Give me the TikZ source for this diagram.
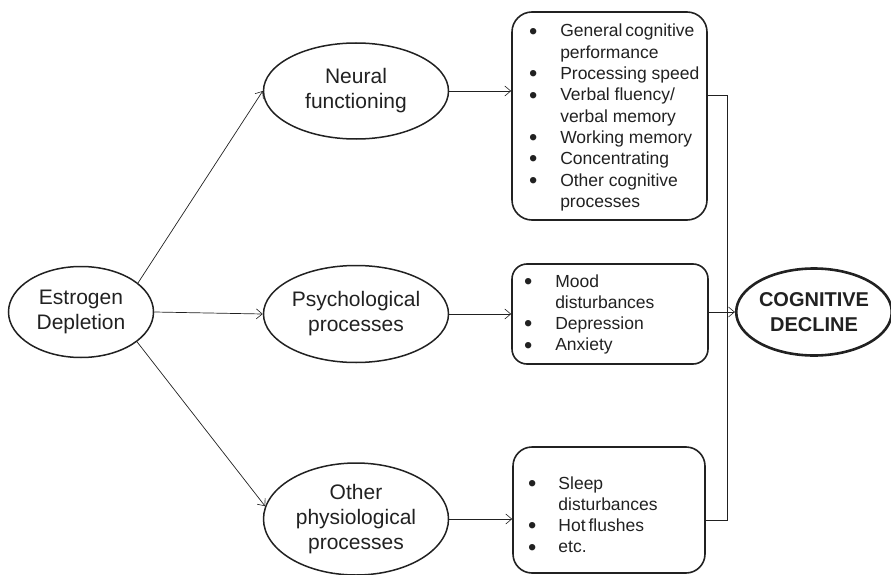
\documentclass[tikz,border=0pt]{standalone}
\usepackage{fontspec}
\setmainfont{Liberation Sans}
\usetikzlibrary{arrows.meta,shapes.geometric}
\definecolor{ink}{gray}{0.13}
% a slightly larger list bullet, kept on the text's centre line
\newcommand{\itemdot}{\raisebox{-2.2pt}{\fontsize{23.6}{21.3}\selectfont\textbullet}}
\begin{document}
\begin{tikzpicture}[x=1pt,y=-1pt,
  ell/.style={draw=ink,line width=1.5pt,ellipse,inner sep=0pt,align=center,
    text=ink,font=\fontsize{21}{25}\selectfont},
  boxed/.style={draw=ink,line width=1.6pt,rectangle,inner sep=0pt},
  items/.style={anchor=base west,inner sep=0pt,text=ink,
    font=\fontsize{17.5}{21.3}\selectfont},
  conn/.style={draw=ink,line width=0.7pt},
  arr/.style={conn,-{Straight Barb[length=6pt,width=10pt,line width=0.6pt]}}]
\useasboundingbox (0,0) rectangle (891,575);

% causal chain: source, mediators, outcome
\node[ell,minimum width=145pt,minimum height=91pt] (est) at (81,312) {Estrogen\\Depletion};
\node[ell,minimum width=185pt,minimum height=96pt] (neural) at (356,91) {Neural\\functioning};
\node[ell,minimum width=185pt,minimum height=97pt] (psych) at (356,314) {Psychological\\processes};
\node[ell,minimum width=185pt,minimum height=112pt] (other) at (356,519) {Other\\physiological\\processes};
\node[ell,line width=2.6pt,minimum width=152pt,minimum height=87pt,
  font=\fontsize{20}{24.5}\selectfont\bfseries] (cog) at (814,312) {COGNITIVE\\DECLINE};

% outcome boxes
\node[boxed,rounded corners=20pt,minimum width=195pt,minimum height=208pt] (nbox) at (609.5,116) {};
\node[boxed,rounded corners=15pt,minimum width=196pt,minimum height=100pt] (pbox) at (610,314) {};
\node[boxed,rounded corners=19pt,minimum width=192pt,minimum height=126pt] (obox) at (609,510) {};

\node[items] (nlist) at (529,37) {\begin{tabular}[t]{@{}l@{\hspace{22.8pt}}l@{}}
  \itemdot & General\,cognitive\\
           & performance\\
  \itemdot & Processing speed\\
  \itemdot & Verbal fluency/\\
           & verbal memory\\
  \itemdot & Working memory\\
  \itemdot & Concentrating\\
  \itemdot & Other cognitive\\
           & processes
\end{tabular}};
\node[items] (plist) at (524,287) {\begin{tabular}[t]{@{}l@{\hspace{22.8pt}}l@{}}
  \itemdot & Mood\\
           & disturbances\\
  \itemdot & Depression\\
  \itemdot & Anxiety
\end{tabular}};
\node[items] (olist) at (528,489) {\begin{tabular}[t]{@{}l@{\hspace{22pt}}l@{}}
  \itemdot & Sleep\\
           & disturbances\\
  \itemdot & Hot\,flushes\\
  \itemdot & etc.
\end{tabular}};

% arrows from the source to the mediators
\draw[arr] (est.27) -- (neural.west);
\draw[arr] (est.east) -- (psych.west);
\draw[arr] (est.-28) -- (other.172);

% arrows from the mediators to their boxes
\draw[arr] (neural.east) -- (nbox.west |- neural.east);
\draw[arr] (psych.east) -- (pbox.west |- psych.east);
\draw[arr] (other.east) -- (obox.west |- other.east);

% collector line into the outcome
\coordinate (jt) at (727,95);
\coordinate (jb) at (727,520);
\draw[conn] (nbox.east |- jt) -- (jt) -- (jb) -- (obox.east |- jb);
\draw[arr] (pbox.east |- cog.west) -- (cog.west);
\end{tikzpicture}
\end{document}
